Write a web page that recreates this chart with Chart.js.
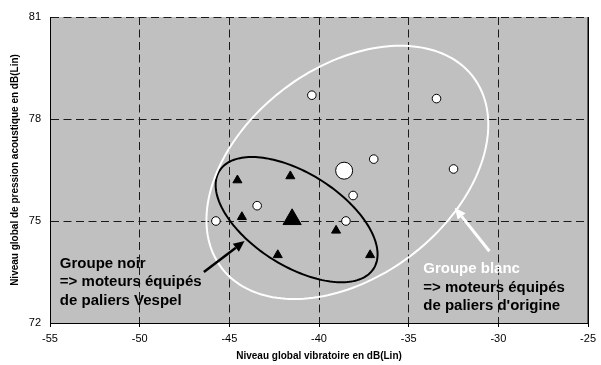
<!DOCTYPE html>
<html>
<head>
<meta charset="utf-8">
<script src="https://cdn.jsdelivr.net/npm/chart.js@4"></script>
<style>
  html, body { margin: 0; padding: 0; background: #ffffff; }
  #wrap { width: 601px; height: 365px; }
</style>
</head>
<body>
<div id="wrap"><canvas id="c" width="601" height="365"></canvas></div>
<script>
// Moteurs équipés de paliers d'origine (cercles blancs)
const blancX = [-40.4, -33.45, -36.95, -32.5, -38.1, -43.45, -45.75, -38.5];
const blancY = [78.7, 78.6, 76.82, 76.53, 75.75, 75.45, 75.0, 75.0];
// Moteurs équipés de paliers Vespel (triangles noirs)
const noirX = [-44.55, -41.6, -44.3, -39.05, -42.3, -37.15];
const noirY = [76.2, 76.32, 75.12, 74.72, 74.0, 74.0];
// Points moyens de chaque groupe
const moyenneBlanc = [-38.6, 76.48];
const moyenneNoir = [-41.5, 75.05];
// Graduations des axes
const xTicks = [-55, -50, -45, -40, -35, -30, -25];
const yTicks = [72, 75, 78, 81];

const FONT = "'Liberation Sans', Arial, sans-serif";

// Ellipses de regroupement, en unités des axes : centre + deux demi-axes conjugués
const ellipses = [
  { cx: -41.25, cy: 75.04, ux: 4.306, uy: -1.432, vx: -1.356, vy: -1.158, color: '#000000', width: 2 },
  { cx: -38.42, cy: 76.43, ux: 7.063, uy: 2.773, vx: 3.443, vy: -2.487, color: '#ffffff', width: 2 }
];
// Flèches (queue -> pointe), en unités des axes
const fleches = [
  { x1: -46.42, y1: 73.50, x2: -44.15, y2: 74.41, color: '#000000', width: 2.5 },
  { x1: -30.50, y1: 74.11, x2: -32.43, y2: 75.39, color: '#ffffff', width: 3 }
];
// Légendes des groupes
const textes = [
  { x: -54.45, y: 73.63, lignes: [
      { t: 'Groupe noir', c: '#000000' },
      { t: '=> moteurs équipés', c: '#000000' },
      { t: 'de paliers Vespel', c: '#000000' } ] },
  { x: -34.19, y: 73.47, lignes: [
      { t: 'Groupe blanc', c: '#ffffff' },
      { t: '=> moteurs équipés', c: '#000000' },
      { t: 'de paliers d\'origine', c: '#000000' } ] }
];

const pts = (xs, ys) => xs.map((x, i) => ({ x: x, y: ys[i] }));

const fondPlugin = {
  id: 'fond',
  beforeDraw(chart) {
    const { ctx, chartArea: a } = chart;
    ctx.save();
    ctx.fillStyle = '#c0c0c0';
    ctx.fillRect(a.left, a.top, a.right - a.left, a.bottom - a.top);
    ctx.restore();
  },
  beforeDatasetsDraw(chart) {
    const { ctx } = chart;
    const xs = chart.scales.x, ys = chart.scales.y;
    // bord droit plein
    const a = chart.chartArea;
    ctx.save();
    ctx.strokeStyle = '#000000';
    ctx.lineWidth = 1.5;
    ctx.beginPath();
    ctx.moveTo(Math.round(a.right) + 0.25, a.top);
    ctx.lineTo(Math.round(a.right) + 0.25, a.bottom);
    ctx.stroke();
    // ellipses
    ellipses.forEach(e => {
      ctx.beginPath();
      const n = 180;
      for (let i = 0; i <= n; i++) {
        const t = i / n * Math.PI * 2;
        const vx = e.cx + e.ux * Math.cos(t) + e.vx * Math.sin(t);
        const vy = e.cy + e.uy * Math.cos(t) + e.vy * Math.sin(t);
        const px = xs.getPixelForValue(vx), py = ys.getPixelForValue(vy);
        if (i === 0) ctx.moveTo(px, py); else ctx.lineTo(px, py);
      }
      ctx.closePath();
      ctx.strokeStyle = e.color;
      ctx.lineWidth = e.width;
      ctx.stroke();
    });
    ctx.restore();
  },
  afterDatasetsDraw(chart) {
    const { ctx } = chart;
    const xs = chart.scales.x, ys = chart.scales.y;
    ctx.save();
    // flèches
    fleches.forEach(f => {
      const x1 = xs.getPixelForValue(f.x1), y1 = ys.getPixelForValue(f.y1);
      const x2 = xs.getPixelForValue(f.x2), y2 = ys.getPixelForValue(f.y2);
      const ang = Math.atan2(y2 - y1, x2 - x1);
      const L = 11, W = 5;
      const bx = x2 - L * Math.cos(ang), by = y2 - L * Math.sin(ang);
      ctx.strokeStyle = f.color;
      ctx.fillStyle = f.color;
      ctx.lineWidth = f.width;
      ctx.beginPath();
      ctx.moveTo(x1, y1);
      ctx.lineTo(bx, by);
      ctx.stroke();
      ctx.beginPath();
      ctx.moveTo(x2, y2);
      ctx.lineTo(bx + W * Math.sin(ang), by - W * Math.cos(ang));
      ctx.lineTo(bx - W * Math.sin(ang), by + W * Math.cos(ang));
      ctx.closePath();
      ctx.fill();
    });
    // textes
    ctx.font = 'bold 15px ' + FONT;
    ctx.textAlign = 'left';
    ctx.textBaseline = 'alphabetic';
    textes.forEach(b => {
      const x = xs.getPixelForValue(b.x), y = ys.getPixelForValue(b.y);
      b.lignes.forEach((l, i) => {
        ctx.fillStyle = l.c;
        ctx.fillText(l.t, x, y + i * 18.6);
      });
    });
    ctx.restore();
  }
};

new Chart(document.getElementById('c'), {
  type: 'scatter',
  data: {
    datasets: [
      {
        label: 'Paliers d\'origine',
        data: pts(blancX, blancY),
        pointStyle: 'circle', pointRadius: 4.3,
        backgroundColor: '#ffffff', borderColor: '#000000', borderWidth: 1
      },
      {
        label: 'Moyenne paliers d\'origine',
        data: [{ x: moyenneBlanc[0], y: moyenneBlanc[1] }],
        pointStyle: 'circle', pointRadius: 8.5,
        backgroundColor: '#ffffff', borderColor: '#000000', borderWidth: 1
      },
      {
        label: 'Paliers Vespel',
        data: pts(noirX, noirY),
        pointStyle: 'triangle', pointRadius: 5.2,
        backgroundColor: '#000000', borderColor: '#000000', borderWidth: 1
      },
      {
        label: 'Moyenne paliers Vespel',
        data: [{ x: moyenneNoir[0], y: moyenneNoir[1] }],
        pointStyle: 'triangle', pointRadius: 10.5,
        backgroundColor: '#000000', borderColor: '#000000', borderWidth: 1
      }
    ]
  },
  options: {
    responsive: false,
    devicePixelRatio: 1,
    animation: false,
    layout: { padding: { top: 17, right: 9, left: 0, bottom: 0 } },
    plugins: { legend: { display: false }, tooltip: { enabled: false } },
    scales: {
      x: {
        type: 'linear', min: -55, max: -25,
        afterBuildTicks: s => { s.ticks = xTicks.map(v => ({ value: v })); },
        afterFit: s => { s.height = 42; },
        grid: { color: '#1a1a1a', lineWidth: 1, drawTicks: true, tickLength: 4, tickColor: '#000000' },
        border: { display: true, color: '#000000', width: 1, dash: [8, 4.5] },
        ticks: { color: '#000000', padding: 5, font: { family: FONT, size: 11 }, maxRotation: 0 },
        title: { display: true, text: 'Niveau global vibratoire en dB(Lin)', color: '#000000',
                 font: { family: FONT, size: 10, weight: 'bold' }, padding: { top: 0, bottom: 3 } }
      },
      y: {
        type: 'linear', min: 72, max: 81,
        afterBuildTicks: s => { s.ticks = yTicks.map(v => ({ value: v })); },
        afterFit: s => { s.width = 50; },
        grid: { color: '#1a1a1a', lineWidth: 1, drawTicks: false },
        border: { display: true, color: '#000000', width: 1, dash: [8, 4.5] },
        ticks: { color: '#000000', padding: 9, font: { family: FONT, size: 11 } },
        title: { display: true, text: 'Niveau global de pression acoustique en dB(Lin)', color: '#000000',
                 font: { family: FONT, size: 10, weight: 'bold' }, padding: { top: 9, bottom: 0 } }
      }
    }
  },
  plugins: [fondPlugin]
});
</script>
</body>
</html>
